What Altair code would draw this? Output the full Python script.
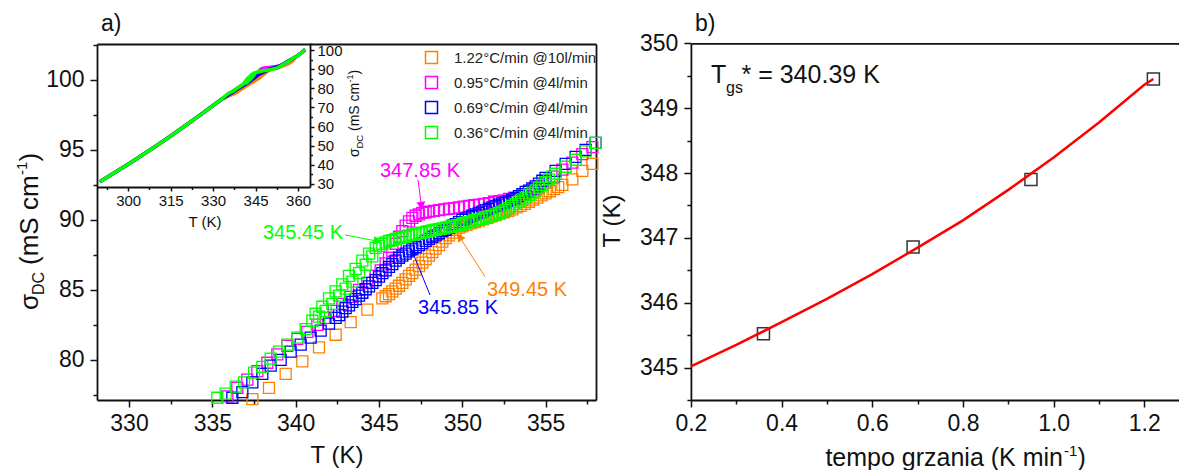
import math
import altair as alt
import pandas as pd

FONT = "Liberation Sans"
INK = "#111111"

# ---------------- data ----------------
series_labels = ["1.22°C/min @10l/min", "0.95°C/min @4l/min",
                 "0.69°C/min @4l/min", "0.36°C/min @4l/min"]

t_orange = [337.4, 338.4, 339.4, 340.4, 341.4, 342.4, 343.3, 344.3,
            345.2, 345.4, 345.6, 345.8, 346.0, 346.2, 346.4, 346.6, 346.8, 347.0,
            347.2, 347.4, 347.6, 347.8, 348.0, 348.2, 348.4, 348.6, 348.8, 349.0,
            349.2, 349.4, 349.6, 349.8, 350.0, 350.25, 350.5, 350.75, 351.0, 351.25,
            351.5, 351.75, 352.0, 352.25, 352.5, 352.75, 353.0, 353.25, 353.5, 353.75,
            354.0, 354.25, 354.5, 354.75, 355.0, 355.25, 355.5, 355.75, 356.0,
            356.6, 357.2, 357.8]
s_orange = [77.2, 78.0, 79.0, 79.9, 80.9, 81.8, 82.7, 83.6,
            84.4, 84.55, 84.7, 84.9, 85.1, 85.3, 85.5, 85.75, 86.0, 86.2,
            86.45, 86.7, 86.95, 87.2, 87.45, 87.7, 87.95, 88.2, 88.45, 88.7,
            88.9, 89.1, 89.3, 89.45, 89.55, 89.65, 89.75, 89.85, 89.95, 90.05,
            90.15, 90.25, 90.35, 90.45, 90.55, 90.65, 90.75, 90.9, 91.0, 91.15,
            91.3, 91.45, 91.6, 91.75, 91.9, 92.05, 92.2, 92.35, 92.5,
            92.9, 93.5, 94.0]

t_magenta = [335.9, 336.5, 337.1, 337.7, 338.3, 338.9, 339.5, 340.1, 340.7, 341.3,
             341.8, 342.3, 342.8, 343.3, 343.8, 344.3, 344.8, 345.1,
             345.4, 345.6, 345.8, 346.0, 346.2, 346.4, 346.6, 346.8, 347.0, 347.2,
             347.4, 347.6, 347.8, 348.0, 348.3, 348.6, 348.9, 349.2, 349.5, 349.8,
             350.1, 350.4, 350.7, 351.0, 351.3, 351.6, 351.9, 352.2, 352.5, 352.8,
             353.1, 353.4, 353.7, 354.0, 354.3, 354.6,
             355.0, 355.5, 356.0, 356.6, 357.2, 357.8]
s_magenta = [77.4, 78.0, 78.6, 79.2, 79.8, 80.4, 81.0, 81.5, 82.0, 82.5,
             83.0, 83.5, 84.0, 84.5, 85.0, 85.5, 86.0, 86.4,
             86.9, 87.3, 87.8, 88.3, 88.8, 89.2, 89.6, 89.9, 90.15, 90.3,
             90.4, 90.5, 90.55, 90.6, 90.65, 90.7, 90.75, 90.8, 90.85, 90.9,
             90.95, 91.0, 91.05, 91.1, 91.15, 91.2, 91.3, 91.35, 91.4, 91.5,
             91.6, 91.7, 91.85, 92.0, 92.2, 92.4,
             92.7, 93.1, 93.6, 94.1, 94.7, 95.2]

t_blue = [336.2, 336.8, 337.4, 338.0, 338.5, 339.1, 339.7, 340.3, 340.9, 341.5, 342.0,
          342.4, 342.6, 342.8, 343.0, 343.2, 343.4, 343.6, 343.8, 344.0, 344.2,
          344.4, 344.6, 344.8, 345.0, 345.2, 345.4, 345.6, 345.8, 346.0, 346.2,
          346.4, 346.6, 346.8, 347.0, 347.2, 347.4, 347.6, 347.8, 348.0, 348.2,
          348.4, 348.6, 348.8, 349.0, 349.2, 349.4, 349.6, 349.8, 350.0, 350.2,
          350.4, 350.6, 350.8, 351.0, 351.2, 351.4, 351.6, 351.8, 352.0, 352.2,
          352.4, 352.6, 352.8, 353.0, 353.2, 353.4, 353.6, 353.8, 354.0, 354.2,
          354.4, 354.6, 354.8, 355.0,
          355.6, 356.2, 356.8, 357.4, 358.0]
s_blue = [77.3, 77.7, 78.4, 79.0, 79.6, 80.0, 80.6, 81.1, 81.6, 82.1, 82.6,
          83.0, 83.2, 83.45, 83.7, 83.9, 84.15, 84.35, 84.6, 84.8, 85.05,
          85.25, 85.5, 85.7, 85.95, 86.2, 86.4, 86.65, 86.85, 87.1, 87.3,
          87.45, 87.6, 87.75, 87.9, 88.05, 88.2, 88.35, 88.5, 88.65, 88.8,
          88.9, 89.05, 89.2, 89.3, 89.45, 89.6, 89.7, 89.85, 90.0, 90.1,
          90.2, 90.3, 90.4, 90.5, 90.6, 90.7, 90.8, 90.9, 91.0, 91.1,
          91.2, 91.25, 91.35, 91.45, 91.55, 91.7, 91.85, 92.0, 92.1, 92.25,
          92.4, 92.6, 92.8, 93.0,
          93.5, 94.0, 94.5, 95.0, 95.5]

t_green = [335.3, 335.8, 336.4, 336.9, 337.5, 338.0, 338.5, 339.0, 339.5, 340.1, 340.6,
           341.0, 341.2, 341.4, 341.6, 341.8, 342.0, 342.2, 342.4, 342.6, 342.8,
           343.0, 343.2, 343.4, 343.6, 343.8, 344.0, 344.2, 344.4, 344.6, 344.8,
           345.0, 345.2, 345.4, 345.6, 345.8, 346.0, 346.2, 346.4, 346.6, 346.8,
           347.0, 347.2, 347.4, 347.6, 347.8, 348.0, 348.2, 348.4, 348.6, 348.8,
           349.0, 349.2, 349.4, 349.6, 349.8, 350.0, 350.2, 350.4, 350.6, 350.8,
           351.0, 351.2, 351.4, 351.6, 351.8, 352.0, 352.2, 352.4, 352.6, 352.8,
           353.0, 353.2, 353.4, 353.6, 353.8, 354.0, 354.2, 354.4, 354.6, 354.8,
           355.0, 355.2, 355.4, 355.6,
           356.2, 356.8, 357.4, 358.0]
s_green = [77.3, 77.6, 78.1, 78.4, 79.1, 79.5, 80.1, 80.6, 81.1, 81.6, 82.2,
           82.8, 83.3, 83.1, 83.8, 83.5, 84.4, 84.0, 84.9, 84.6, 85.4,
           85.1, 86.0, 85.6, 86.5, 86.2, 87.1, 86.8, 87.6, 87.4, 88.0,
           88.15, 88.3, 88.4, 88.5, 88.55, 88.65, 88.7, 88.75, 88.8, 88.9,
           88.95, 89.0, 89.05, 89.1, 89.15, 89.2, 89.25, 89.3, 89.35, 89.4,
           89.45, 89.5, 89.55, 89.6, 89.65, 89.7, 89.8, 89.85, 89.9, 90.0,
           90.05, 90.1, 90.2, 90.25, 90.3, 90.4, 90.5, 90.6, 90.7, 90.85,
           91.0, 91.15, 91.3, 91.45, 91.6, 91.8, 91.95, 92.1, 92.3, 92.5,
           92.7, 92.9, 93.1, 93.3,
           93.8, 94.3, 94.9, 95.5]

# inset: wide-range curves (shared low-T and high-T parts)
inset_t_low = [290.0, 295.0, 300.0, 305.0, 310.0, 315.0, 320.0, 325.0, 330.0, 333.0]
inset_s_low = [31.2, 35.7, 40.3, 45.1, 50.0, 55.1, 60.3, 65.6, 71.0, 74.3]
inset_t_high = [359.5, 361.0, 362.5]
inset_s_high = [96.8, 98.4, 100.2]

# annotations of panel a)
ann_series = [series_labels[1], series_labels[3], series_labels[2], series_labels[0]]
ann_text = ["347.85 K", "345.45 K", "345.85 K", "349.45 K"]
ann_text_t = [347.46, 340.44, 349.74, 353.88]
ann_text_s = [93.5, 89.07, 83.71, 85.0]
ann_from_t = [347.34, 342.96, 348.06, 351.36]
ann_from_s = [92.86, 88.93, 84.64, 85.95]
ann_tip_t = [347.56, 345.06, 346.96, 349.76]
ann_tip_s = [90.84, 88.45, 87.86, 88.93]

# panel b)
rate = [0.36, 0.69, 0.95, 1.22]
t_glass = [345.52, 346.86, 347.90, 349.45]
fit_rate = [0.2, 0.3, 0.4, 0.5, 0.6, 0.7, 0.8, 0.9, 1.0, 1.1, 1.2, 1.22]
fit_t = [345.02, 345.35, 345.70, 346.06, 346.44, 346.85, 347.27, 347.74,
         348.24, 348.78, 349.36, 349.45]
tgs_text = "* = 340.39 K"

# ---------------- styles / layout ----------------
W, H = 1179, 470
series_colors = ["#FF8000", "#FF00FF", "#0000FF", "#00FF00"]
hex_of = dict(zip(series_labels, series_colors))

A_dom_x, A_rng_x = [328.08, 358.02], [97, 596]
A_dom_y, A_rng_y = [77.14, 102.57], [400, 44]
I_dom_x, I_rng_x = [289.0, 364.2], [97, 310]
I_dom_y, I_rng_y = [28.4, 103.7], [187, 43]
B_dom_x, B_rng_x = [0.2, 1.2765], [690.9, 1179]
B_dom_y, B_rng_y = [344.5, 350.0], [400, 43.3]


def sc(dom, rng):
    return alt.Scale(domain=dom, range=rng, nice=False, zero=False)


sxA, syA = sc(A_dom_x, A_rng_x), sc(A_dom_y, A_rng_y)
sxI, syI = sc(I_dom_x, I_rng_x), sc(I_dom_y, I_rng_y)
sxB, syB = sc(B_dom_x, B_rng_x), sc(B_dom_y, B_rng_y)

kx = (A_rng_x[1] - A_rng_x[0]) / (A_dom_x[1] - A_dom_x[0])
ky = (A_rng_y[0] - A_rng_y[1]) / (A_dom_y[1] - A_dom_y[0])

# ---------------- tables ----------------
all_t = [t_orange, t_magenta, t_blue, t_green]
all_s = [s_orange, s_magenta, s_blue, s_green]

rows = []
for lab, ts, ss in zip(series_labels, all_t, all_s):
    for t, s in zip(ts, ss):
        rows.append({"T": t, "S": s, "series": lab})
df_main = pd.DataFrame(rows)

rows = []
for lab, ts, ss in zip(series_labels, all_t, all_s):
    for t, s in zip(inset_t_low + ts + inset_t_high, inset_s_low + ss + inset_s_high):
        rows.append({"T": t, "S": s, "series": lab, "hex": hex_of[lab]})
df_inset = pd.DataFrame(rows)

HEAD_SIZE = 80
head_h = math.sqrt(HEAD_SIZE) / 2 * math.sqrt(3) / 2
rows = []
for lab, txt, tt, ts_, t0, s0, t1, s1 in zip(ann_series, ann_text, ann_text_t, ann_text_s,
                                             ann_from_t, ann_from_s, ann_tip_t, ann_tip_s):
    dxp = (t1 - t0) * kx
    dyp = -(s1 - s0) * ky
    L = math.hypot(dxp, dyp)
    ang = math.degrees(math.atan2(dxp, -dyp)) % 360
    th = t1 - (head_h * dxp / L) / kx
    sh = s1 + (head_h * dyp / L) / ky
    rows.append({"text": txt, "Tt": tt, "St": ts_, "T0": t0, "S0": s0,
                 "T1": t1, "S1": s1, "Th": th, "Sh": sh, "ang": ang,
                 "hex": hex_of[lab]})
df_ann = pd.DataFrame(rows)

df_b = pd.DataFrame({"rate": rate, "T": t_glass})
df_fit = pd.DataFrame({"rate": fit_rate, "T": fit_t})
one = pd.DataFrame({"k": [0]})

# ---------------- panel a) main ----------------
TICK_FONT = 23

scat = alt.Chart(df_main).mark_point(shape="square", filled=False, size=121,
                                     strokeWidth=1.3, opacity=1).encode(
    x=alt.X("T:Q", scale=sxA, axis=alt.Axis(
        orient="bottom", offset=A_rng_y[0] - H, values=[330, 335, 340, 345, 350, 355],
        labelFontSize=TICK_FONT, tickSize=7, labelPadding=5, title=None, format="d")),
    y=alt.Y("S:Q", scale=syA, axis=alt.Axis(
        orient="left", offset=-A_rng_x[0], values=[80, 85, 90, 95, 100],
        labelFontSize=TICK_FONT, tickSize=7, labelPadding=6, title=None, format="d")),
    color=alt.Color("series:N",
                    scale=alt.Scale(domain=series_labels, range=series_colors),
                    legend=alt.Legend(orient="none", legendX=424, legendY=50, title=None,
                                      symbolType="square", symbolSize=144,
                                      symbolStrokeWidth=1.5, labelFont=FONT,
                                      labelFontSize=15, labelColor="#222222",
                                      labelOffset=15, rowPadding=6, padding=0,
                                      labelLimit=400)),
)

minorA = alt.Chart(df_main).mark_point(opacity=0).encode(
    x=alt.X("T:Q", scale=sxA, axis=alt.Axis(
        orient="bottom", offset=A_rng_y[0] - H, values=[332.5, 337.5, 342.5, 347.5, 352.5, 357.5],
        labels=False, domain=False, tickSize=4, title=None)),
    y=alt.Y("S:Q", scale=syA, axis=alt.Axis(
        orient="left", offset=-A_rng_x[0], values=[77.5, 82.5, 87.5, 92.5, 97.5, 102.5],
        labels=False, domain=False, tickSize=4, title=None)),
)

frameA = alt.Chart(df_main).mark_point(opacity=0).encode(
    x=alt.X("T:Q", scale=sxA, axis=alt.Axis(
        orient="top", offset=-A_rng_y[1], ticks=False, labels=False, title=None)),
    y=alt.Y("S:Q", scale=syA, axis=alt.Axis(
        orient="right", offset=A_rng_x[1] - W, ticks=False, labels=False, title=None)),
)

ann_rules = alt.Chart(df_ann).mark_rule(strokeWidth=1).encode(
    x=alt.X("T0:Q", scale=sxA, axis=None), y=alt.Y("S0:Q", scale=syA, axis=None),
    x2="T1:Q", y2="S1:Q", color=alt.Color("hex:N", scale=None))
ann_heads = alt.Chart(df_ann).mark_point(shape="triangle", filled=True, size=HEAD_SIZE,
                                         opacity=1).encode(
    x=alt.X("Th:Q", scale=sxA, axis=None), y=alt.Y("Sh:Q", scale=syA, axis=None),
    angle=alt.Angle("ang:Q", scale=None), color=alt.Color("hex:N", scale=None))
ann_texts = alt.Chart(df_ann).mark_text(font=FONT, fontSize=20, align="center",
                                        baseline="middle").encode(
    x=alt.X("Tt:Q", scale=sxA, axis=None), y=alt.Y("St:Q", scale=syA, axis=None),
    text="text:N", color=alt.Color("hex:N", scale=None))

mainA = alt.layer(scat, minorA, frameA, ann_rules, ann_heads, ann_texts).resolve_axis(
    x="independent", y="independent")

# ---------------- panel a) inset ----------------
inset_lines = alt.Chart(df_inset).mark_line(strokeWidth=3.5).encode(
    x=alt.X("T:Q", scale=sxI, axis=alt.Axis(
        orient="bottom", offset=I_rng_y[0] - H, values=[300, 315, 330, 345, 360],
        labelFontSize=15, tickSize=4, labelPadding=2, title=None, format="d")),
    y=alt.Y("S:Q", scale=syI, axis=alt.Axis(
        orient="right", offset=I_rng_x[1] - W, values=[30, 40, 50, 60, 70, 80, 90, 100],
        labelFontSize=15, tickSize=4, labelPadding=3, title=None, format="d")),
    color=alt.Color("hex:N", scale=None),
    detail="series:N",
)
inset_minor = alt.Chart(df_inset).mark_point(opacity=0).encode(
    x=alt.X("T:Q", scale=sxI, axis=alt.Axis(
        orient="bottom", offset=I_rng_y[0] - H, values=[292.5, 307.5, 322.5, 337.5, 352.5],
        labels=False, domain=False, tickSize=2.5, title=None)),
    y=alt.Y("S:Q", scale=syI, axis=alt.Axis(
        orient="right", offset=I_rng_x[1] - W, values=[35, 45, 55, 65, 75, 85, 95],
        labels=False, domain=False, tickSize=2.5, title=None)),
)
insetA = alt.layer(inset_lines, inset_minor).resolve_axis(x="independent", y="independent")

# ---------------- panel b) ----------------
ptsB = alt.Chart(df_b).mark_point(shape="square", filled=False, size=144, strokeWidth=1.5,
                                  color="#333333", opacity=1).encode(
    x=alt.X("rate:Q", scale=sxB, axis=alt.Axis(
        orient="bottom", offset=B_rng_y[0] - H, values=[0.2, 0.4, 0.6, 0.8, 1.0, 1.2],
        labelFontSize=TICK_FONT, tickSize=7, labelPadding=5, title=None, format=".1f")),
    y=alt.Y("T:Q", scale=syB, axis=alt.Axis(
        orient="left", offset=-B_rng_x[0], values=[345, 346, 347, 348, 349, 350],
        labelFontSize=TICK_FONT, tickSize=7, labelPadding=6, title=None, format="d")),
)
minorB = alt.Chart(df_b).mark_point(opacity=0).encode(
    x=alt.X("rate:Q", scale=sxB, axis=alt.Axis(
        orient="bottom", offset=B_rng_y[0] - H, values=[0.3, 0.5, 0.7, 0.9, 1.1],
        labels=False, domain=False, tickSize=4, title=None)),
    y=alt.Y("T:Q", scale=syB, axis=alt.Axis(
        orient="left", offset=-B_rng_x[0],
        values=[344.5, 345.5, 346.5, 347.5, 348.5, 349.5],
        labels=False, domain=False, tickSize=4, title=None)),
)
frameB = alt.Chart(df_b).mark_point(opacity=0).encode(
    x=alt.X("rate:Q", scale=sxB, axis=alt.Axis(
        orient="top", offset=-B_rng_y[1], ticks=False, labels=False, title=None)),
    y=alt.Y("T:Q", scale=syB, axis=None),
)
fitB = alt.Chart(df_fit).mark_line(color="#FF0000", strokeWidth=2.5).encode(
    x=alt.X("rate:Q", scale=sxB, axis=None), y=alt.Y("T:Q", scale=syB, axis=None))

panelB = alt.layer(ptsB, minorB, frameB, fitB).resolve_axis(x="independent", y="independent")


# ---------------- free texts ----------------
def ptext(txt, x, y, size, align="left", baseline="alphabetic", angle=0, dx=0, dy=0,
          color=INK):
    return alt.Chart(one).mark_text(text=txt, font=FONT, fontSize=size, align=align,
                                    baseline=baseline, angle=angle, dx=dx, dy=dy,
                                    color=color).encode(x=alt.value(x), y=alt.value(y))


texts = [
    ptext("a)", 101, 31, 23),
    ptext("b)", 695, 31, 23),
    # panel a axis titles
    ptext("T (K)", 337, 463, 24, align="center"),
    ptext("σ", 38, 310, 26, angle=270),
    ptext("DC", 38, 310, 16, angle=270, dx=15, dy=6),
    ptext("(mS cm", 38, 310, 26, angle=270, dx=45),
    ptext("-1", 38, 310, 15, angle=270, dx=135, dy=-11),
    ptext(")", 38, 310, 26, angle=270, dx=148.5),
    # inset titles
    ptext("T (K)", 205, 227, 15, align="center"),
    ptext("σ", 359, 157, 14, angle=270),
    ptext("DC", 359, 157, 9.5, angle=270, dx=8.4, dy=3.5),
    ptext("(mS cm", 359, 157, 14, angle=270, dx=26),
    ptext("-1", 359, 157, 9, angle=270, dx=74.5, dy=-6),
    ptext(")", 359, 157, 14, angle=270, dx=82.5),
    # panel b titles
    ptext("T (K)", 620, 221, 24, align="center", angle=270),
    ptext("tempo grzania (K min", 1063, 466, 25, align="right"),
    ptext("-1", 1064, 456, 15),
    ptext(")", 1077.5, 466, 25),
    ptext("T", 711, 83, 25),
    ptext("gs", 726, 93, 16),
    ptext(tgs_text, 741.5, 83, 25),
]

chart = alt.layer(mainA, insetA, panelB, *texts).resolve_scale(
    x="independent", y="independent"
).properties(
    width=W, height=H, padding=0, autosize=alt.AutoSizeParams(type="none")
).configure_view(stroke=None).configure_axis(
    labelFont=FONT, labelColor=INK, tickColor=INK, domainColor=INK, grid=False,
    labelFlush=False, domainWidth=1.8, tickWidth=1.5
)

chart.save("out.html", embed_options={"renderer": "svg", "actions": False})
